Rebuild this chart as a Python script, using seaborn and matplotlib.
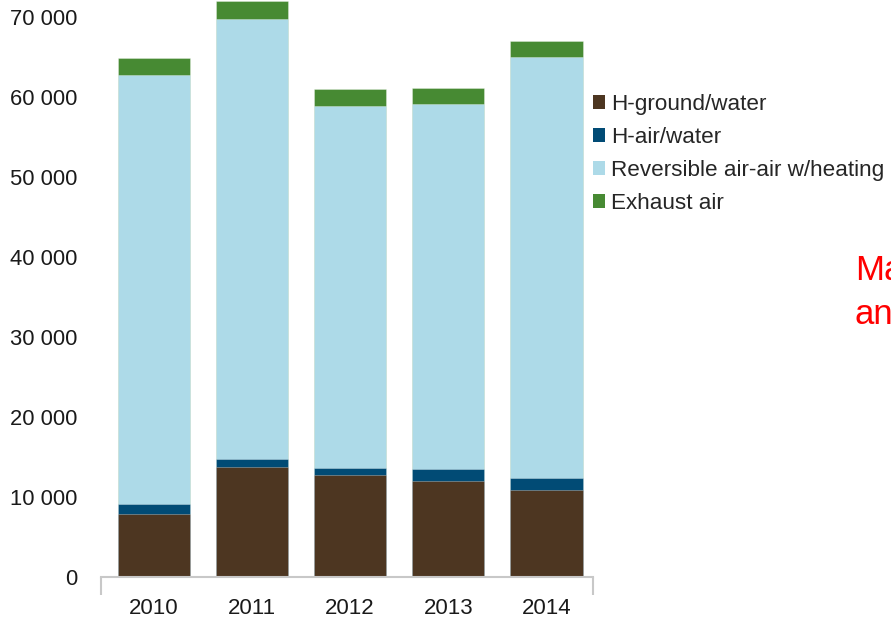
import matplotlib
matplotlib.use("Agg")
import matplotlib.pyplot as plt
import seaborn as sns
import numpy as np
import pandas as pd
from matplotlib.patches import Patch
from matplotlib.ticker import FuncFormatter

years = ["2010", "2011", "2012", "2013", "2014"]
ground_water = [7900, 13700, 12700, 12000, 10900]
air_water = [1200, 1000, 900, 1450, 1450]
reversible = [53650, 55050, 45320, 45650, 52650]
exhaust = [2100, 2300, 2050, 2050, 2000]
series_names = ["H-ground/water", "H-air/water", "Reversible air-air w/heating", "Exhaust air"]
y_ticks = [0, 10000, 20000, 30000, 40000, 50000, 60000, 70000]

colors = ["#4D3621", "#014B75", "#ADDAE8", "#478A33"]

sns.set_theme(style="white")
plt.rcParams["font.family"] = ["Liberation Sans", "DejaVu Sans"]

fig = plt.figure(figsize=(8.91, 6.18), dpi=100)
ax = fig.add_axes([101 / 891, 41 / 618, 492 / 891, 577 / 618])

layers = [ground_water, air_water, reversible, exhaust]
cum = np.cumsum(np.array(layers, dtype=float), axis=0)
df = pd.DataFrame({"year": years})
for i in range(len(layers) - 1, -1, -1):
    df["v"] = cum[i]
    sns.barplot(data=df, x="year", y="v", color=colors[i], width=0.74,
                saturation=1, ax=ax, edgecolor=(1, 1, 1, 0.35), linewidth=0.6)

xl, xr = -0.539, 4.476
ax.set_xlim(xl, xr)
ax.set_ylim(0, 72125)
ax.set_yticks(y_ticks)
ax.yaxis.set_major_formatter(FuncFormatter(lambda v, p: f"{int(v):,}".replace(",", " ")))
ax.set_xlabel("")
ax.set_ylabel("")

for s in ["top", "right", "left"]:
    ax.spines[s].set_visible(False)
ax.spines["bottom"].set_color("#C8C8C8")
ax.spines["bottom"].set_linewidth(1.5)

ax.tick_params(axis="y", length=0, pad=17, labelsize=15.8, colors="#1a1a1a")
ax.tick_params(axis="x", which="major", bottom=True, length=0, pad=15, labelsize=16, colors="#1a1a1a")
ax.set_xticks([xl, xr], minor=True)
ax.tick_params(axis="x", which="minor", bottom=True, length=13, width=1.5, color="#C8C8C8", direction="out")

handles = [Patch(facecolor=c, edgecolor="none") for c in colors]
fig.legend(handles, series_names, loc="upper left", bbox_to_anchor=(593 / 891, 1 - 94 / 618),
           frameon=False, fontsize=16.2, handlelength=0.55, handleheight=0.55,
           handletextpad=0.25, labelspacing=0.53, borderpad=0, borderaxespad=0)

fig.text(855 / 891, 1 - 270 / 618, "Ma", color="#FF0000", fontsize=25, va="center", ha="left")
fig.text(855 / 891, 1 - 315 / 618, "an", color="#FF0000", fontsize=25, va="center", ha="left")

fig.savefig("out.png", dpi=100)
